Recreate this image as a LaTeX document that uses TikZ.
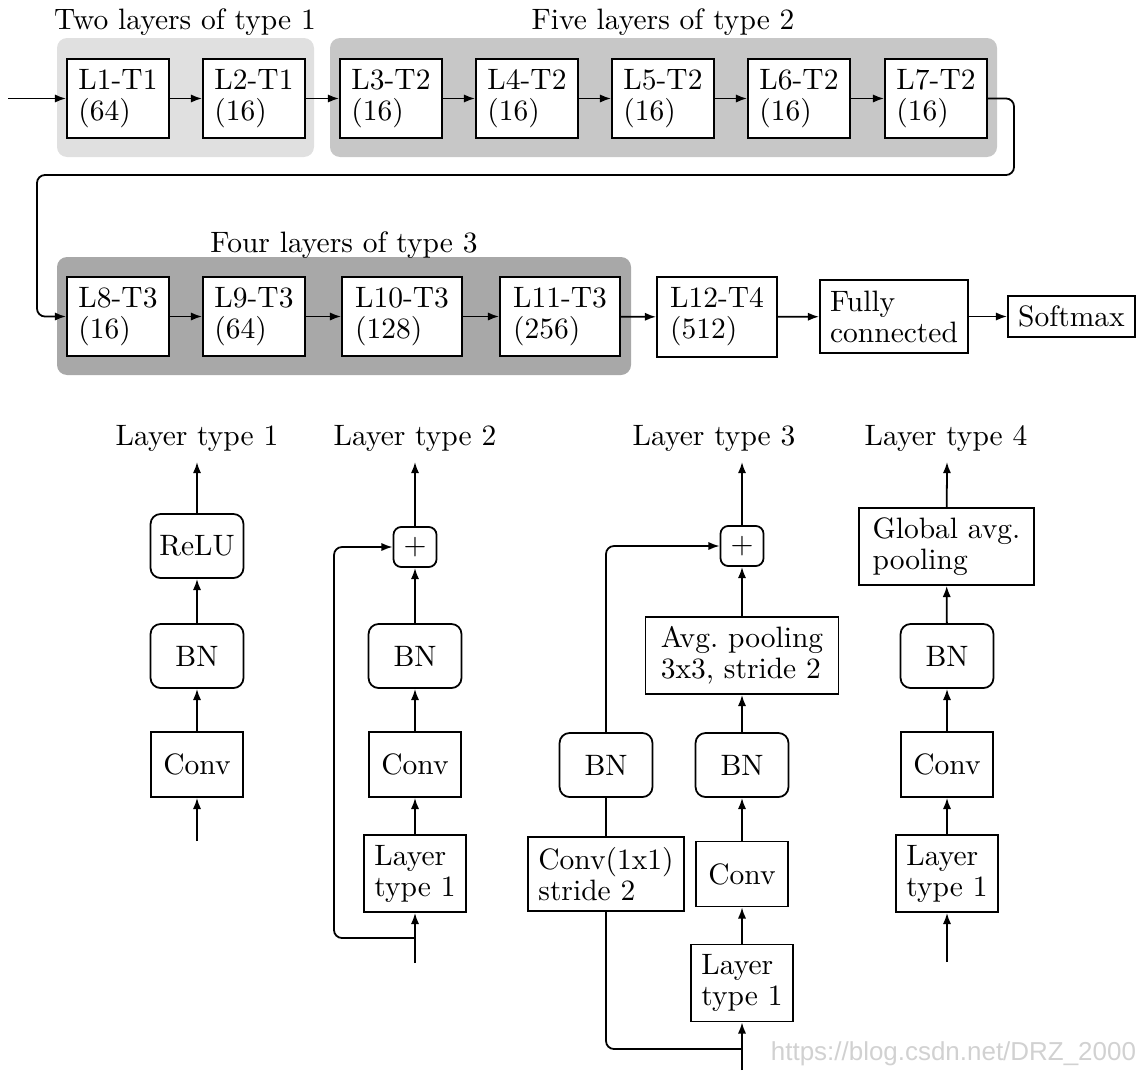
\documentclass[tikz,border=0pt]{standalone}
\usepackage{fontspec}
\newfontfamily\wmfont{Liberation Sans}
\usetikzlibrary{arrows.meta}
\definecolor{gA}{gray}{0.88}
\definecolor{gB}{gray}{0.78}
\definecolor{gC}{gray}{0.66}
\definecolor{wm}{gray}{0.82}
\begin{document}
\begin{tikzpicture}[x=0.339pt, y=-0.339pt, line width=0.6pt,
  >={Latex[length=3.8pt,width=2.8pt]},
  every node/.style={font=\fontsize{10}{10.5}\selectfont},
  bx/.style={draw, fill=white, align=left, inner sep=0pt},
  rbx/.style={draw, fill=white, rounded corners=3.4pt, inner sep=0pt},
  sz/.style n args={2}{minimum width=#1, minimum height=#2},
  grp/.style={rounded corners=3.4pt},
  link/.style={->, rounded corners=2.7pt},
  ttl/.style={inner sep=0pt}]

\useasboundingbox (0,0) rectangle (1139,1070);

% groups
\fill[gA, grp] (57,38) rectangle (314,157);
\fill[gB, grp] (330,38) rectangle (997,157);
\fill[gC, grp] (57,257) rectangle (631,375);

\node[ttl] (tA) at (185,22) {Two layers of type 1};
\node[ttl] (tB) at (663,22) {Five layers of type 2};
\node[ttl] (tC) at (344,245) {Four layers of type 3};

% top row
\node[bx, sz={34.6pt}{26.8pt}] (L1) at (118,98.5) {L1-T1\\(64)};
\node[bx, sz={34.6pt}{26.8pt}] (L2) at (254,98.5) {L2-T1\\(16)};
\node[bx, sz={34.6pt}{26.8pt}] (L3) at (391,98.5) {L3-T2\\(16)};
\node[bx, sz={34.6pt}{26.8pt}] (L4) at (527,98.5) {L4-T2\\(16)};
\node[bx, sz={34.6pt}{26.8pt}] (L5) at (663,98.5) {L5-T2\\(16)};
\node[bx, sz={34.6pt}{26.8pt}] (L6) at (799,98.5) {L6-T2\\(16)};
\node[bx, sz={34.6pt}{26.8pt}] (L7) at (936,98.5) {L7-T2\\(16)};

\coordinate (in0) at (8,98.5);
\draw[->] (in0) -- (L1);
\draw[->] (L1) -- (L2);
\draw[->] (L2) -- (L3);
\draw[->] (L3) -- (L4);
\draw[->] (L4) -- (L5);
\draw[->] (L5) -- (L6);
\draw[->] (L6) -- (L7);

% second row
\node[bx, sz={34.6pt}{26.8pt}] (L8) at (118,316.5) {L8-T3\\(16)};
\node[bx, sz={34.6pt}{26.8pt}] (L9) at (254,316.5) {L9-T3\\(64)};
\node[bx, sz={40.7pt}{26.8pt}] (L10) at (402,316.5) {L10-T3\\(128)};
\node[bx, sz={40.7pt}{26.8pt}] (L11) at (560,316.5) {L11-T3\\(256)};
\node[bx, sz={40.7pt}{27.1pt}] (L12) at (717,317) {L12-T4\\(512)};
\node[bx, sz={50.2pt}{24.7pt}] (FC) at (894,316.5) {Fully\\connected};
\node[bx, sz={43.1pt}{13.9pt}] (SM) at (1071.5,316.5) {Softmax};

\coordinate (ca) at (1014,175);
\coordinate (cb) at (37,175);
\draw[link] (L7.east) -| (ca) -- (cb) |- (L8.west);
\draw[->] (L8) -- (L9);
\draw[->] (L9) -- (L10);
\draw[->] (L10) -- (L11);
\draw[->] (L11) -- (L12);
\draw[->] (L12) -- (FC);
\draw[->] (FC) -- (SM);

% layer type 1
\node[ttl] (h1) at (197,438) {Layer type 1};
\node[rbx, sz={31.5pt}{21.7pt}] (relu1) at (197,546) {ReLU};
\node[rbx, sz={31.5pt}{21.7pt}] (bn1) at (197,656) {BN};
\node[bx, sz={31.2pt}{22pt}] (cv1) at (197,764.5) {Conv};
\coordinate (i1) at (197,841);
\coordinate (o1) at (197,462);
\draw[->] (i1) -- (cv1);
\draw[->] (cv1) -- (bn1);
\draw[->] (bn1) -- (relu1);
\draw[->] (relu1) -- (o1);

% layer type 2
\node[ttl] (h2) at (415,438) {Layer type 2};
\node[rbx, rounded corners=2.7pt, sz={14.6pt}{13.6pt}] (p2) at (415,547) {$+$};
\node[rbx, sz={31.5pt}{21.7pt}] (bn2) at (415,656) {BN};
\node[bx, sz={31.2pt}{22pt}] (cv2) at (415,764.5) {Conv};
\node[bx, sz={34.6pt}{26.1pt}] (lt2) at (415,873.5) {Layer\\type 1};
\coordinate (i2) at (415,963);
\coordinate (s2) at (415,938);
\coordinate (s2b) at (334,938);
\coordinate (o2) at (415,462);
\draw[->] (i2) -- (lt2);
\draw[->] (lt2) -- (cv2);
\draw[->] (cv2) -- (bn2);
\draw[->] (bn2) -- (p2);
\draw[->] (p2) -- (o2);
\draw[link] (s2) -- (s2b) |- (p2);

% layer type 3
\node[ttl] (h3) at (714,438) {Layer type 3};
\node[rbx, rounded corners=2.7pt, sz={14.6pt}{13.6pt}] (p3) at (742,546) {$+$};
\node[bx, sz={65.4pt}{26.1pt}] (avg) at (742,655.5) {Avg.\ pooling\\3x3, stride 2};
\node[rbx, sz={31.5pt}{21.7pt}] (bn3) at (742,765) {BN};
\node[bx, sz={31.2pt}{22pt}] (cv3) at (742,874) {Conv};
\node[bx, sz={34.6pt}{26.1pt}] (lt3) at (742,983) {Layer\\type 1};
\node[rbx, sz={31.5pt}{21.7pt}] (bns) at (606,765) {BN};
\node[bx, sz={52.9pt}{25.1pt}] (c11) at (606,874) {Conv(1x1)\\stride 2};
\coordinate (i3) at (742,1070);
\coordinate (s3) at (742,1049);
\coordinate (o3) at (742,462);
\draw[->] (i3) -- (lt3);
\draw[->] (lt3) -- (cv3);
\draw[->] (cv3) -- (bn3);
\draw[->] (bn3) -- (avg);
\draw[->] (avg) -- (p3);
\draw[->] (p3) -- (o3);
\draw[rounded corners=2.7pt] (s3) -| (c11);
\draw (c11) -- (bns);
\draw[link] (bns) |- (p3);

% layer type 4
\node[ttl] (h4) at (946,438) {Layer type 4};
\node[bx, sz={59.3pt}{26.1pt}] (glob) at (946.5,546.5) {Global avg.\\pooling};
\node[rbx, sz={31.5pt}{21.7pt}] (bn4) at (947,656) {BN};
\node[bx, sz={31.2pt}{22pt}] (cv4) at (947,764.5) {Conv};
\node[bx, sz={34.6pt}{26.1pt}] (lt4) at (947,873.5) {Layer\\type 1};
\coordinate (i4) at (947,962);
\coordinate (o4) at (947,462);
\draw[->] (i4) -- (lt4);
\draw[->] (lt4) -- (cv4);
\draw[->] (cv4) -- (bn4);
\draw[->] (bn4) -- (glob);
\draw[->] (glob) -- (o4);

% watermark
\node[anchor=west, inner sep=0pt, text=wm, font=\wmfont\fontsize{8.8}{10}\selectfont] (wmk) at (770,1054) {https://blog.csdn.net/DRZ\_2000};
\end{tikzpicture}
\end{document}
